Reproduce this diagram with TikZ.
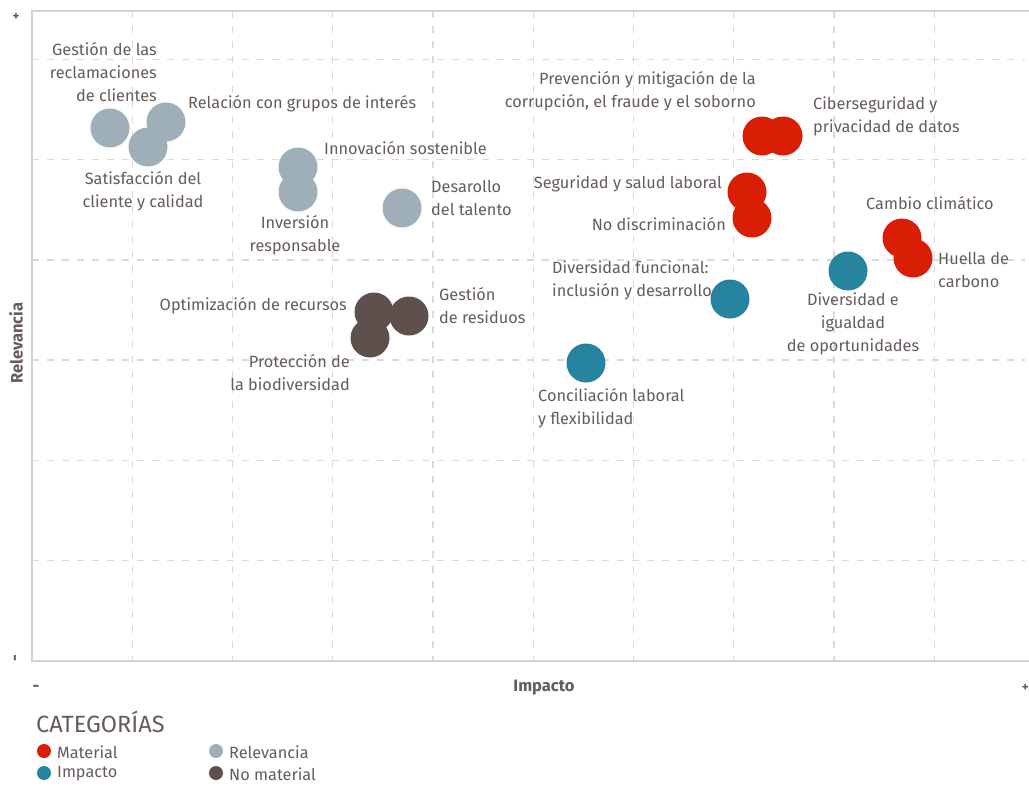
\documentclass[tikz,border=0pt]{standalone}
\usepackage{fontspec}
\setmainfont{Fira Sans}
\definecolor{txt}{HTML}{665C58}
\definecolor{frame}{HTML}{D4D0CD}
\definecolor{gridc}{HTML}{DADADA}
\definecolor{cmat}{HTML}{D81E05}
\definecolor{cimp}{HTML}{27849E}
\definecolor{crel}{HTML}{9EAFB9}
\definecolor{cnom}{HTML}{5E514D}
\tikzset{
  lbl/.style={inner sep=0pt, text=txt, font=\fontsize{16.3}{23}\selectfont},
  axl/.style={inner sep=0pt, text=txt, font=\fontsize{16.5}{18}\selectfont\bfseries},
  dot/.style={circle, inner sep=0pt, minimum size=39pt},
  ldot/.style={circle, inner sep=0pt, minimum size=14pt},
  gridl/.style={gridc, line width=1.4pt, dash pattern=on 7pt off 8pt},
  framel/.style={frame, line width=2.5pt}
}
\begin{document}
\begin{tikzpicture}[x=1pt,y=-1pt]
\useasboundingbox (0,0) rectangle (1029,787);
\fill[white] (0,0) rectangle (1029,787);
% grid
\foreach \k in {1,...,9} {
  \draw[gridl] ({32+100.25*\k},11) -- ({32+100.25*\k},661);
}
\foreach \k in {1,...,6} {
  \draw[gridl] (32,{661-100.3*\k}) -- (1025,{661-100.3*\k});
}
% frame
\draw[framel] (1029,11) -- (32,11) -- (32,661) -- (1029,661);
% axis marks
\node[axl, font=\fontsize{13}{15}\selectfont\bfseries] (plus) at (16,17) {+};
\node[axl, rotate=90] (minus) at (17,658) {-};
\node[axl] (xminus) at (36,688) {-};
\node[axl, font=\fontsize{13}{15}\selectfont\bfseries, anchor=east] (xplus) at (1029,688) {+};
\node[axl] (ximp) at (544,688) {Impacto};
\node[axl, rotate=90] (yrel) at (16,343) {Relevancia};
% circles
\node[dot, fill=crel] (c1) at (110,128) {};
\node[dot, fill=crel] (c2) at (166,122) {};
\node[dot, fill=crel] (c3) at (148,147) {};
\node[dot, fill=crel] (c4) at (298,167) {};
\node[dot, fill=crel] (c5) at (298,192) {};
\node[dot, fill=crel] (c6) at (402,208) {};
\node[dot, fill=cnom] (c7) at (374,312) {};
\node[dot, fill=cnom] (c8) at (409,316) {};
\node[dot, fill=cnom] (c9) at (370,338) {};
\node[dot, fill=cimp] (c10) at (586,363) {};
\node[dot, fill=cimp] (c11) at (730,299) {};
\node[dot, fill=cimp] (c12) at (848,271) {};
\node[dot, fill=cmat] (c13) at (762,136) {};
\node[dot, fill=cmat] (c14) at (783,136) {};
\node[dot, fill=cmat] (c15) at (747,192) {};
\node[dot, fill=cmat] (c16) at (752,218) {};
\node[dot, fill=cmat] (c17) at (902,238) {};
\node[dot, fill=cmat] (c18) at (913,258) {};
% labels
\node[lbl, align=right, anchor=east] (l1) at (157,72) {Gestión de las\\reclamaciones\\de clientes};
\node[lbl, anchor=west] (l2) at (188,104) {Relación con grupos de interés};
\node[lbl, align=center] (l3) at (143,191) {Satisfacción del\\cliente y calidad};
\node[lbl, anchor=west] (l4) at (324,148) {Innovación sostenible};
\node[lbl, align=center] (l5) at (295,235) {Inversión\\responsable};
\node[lbl, align=left, anchor=west] (l6) at (431,198) {Desarollo\\del talento};
\node[lbl, anchor=east] (l7) at (347,306) {Optimización de recursos};
\node[lbl, align=left, anchor=west] (l8) at (439,306) {Gestión\\de residuos};
\node[lbl, align=right, anchor=east] (l9) at (350,373) {Protección de\\la biodiversidad};
\node[lbl, align=left, anchor=west] (l10) at (538,408) {Conciliación laboral\\y flexibilidad};
\node[lbl, align=right, anchor=east] (l11) at (756,91) {Prevención y mitigación de la\\corrupción, el fraude y el soborno};
\node[lbl, align=left, anchor=west] (l12) at (813,116) {Ciberseguridad y\\privacidad de datos};
\node[lbl, anchor=east] (l13) at (722,184) {Seguridad y salud laboral};
\node[lbl, anchor=east] (l14) at (726,224) {No discriminación};
\node[lbl, anchor=west] (l15) at (866,203) {Cambio climático};
\node[lbl, align=left, anchor=west] (l16) at (938,270) {Huella de\\carbono};
\node[lbl, align=left, anchor=west] (l17) at (552,280) {Diversidad funcional:\\inclusión y desarrollo};
\node[lbl, align=center] (l18) at (853,324) {Diversidad e\\igualdad\\de oportunidades};
% legend
\node[inner sep=0pt, text=txt, font=\fontsize{23.5}{27}\selectfont, anchor=west] (cat) at (36,722) {CATEGORÍAS};
\node[ldot, fill=cmat] (d1) at (44,751) {};
\node[ldot, fill=cimp] (d2) at (44,773) {};
\node[ldot, fill=crel] (d3) at (216,751) {};
\node[ldot, fill=cnom] (d4) at (216,773) {};
\node[lbl, anchor=west] (t1) at (57,752) {Material};
\node[lbl, anchor=west] (t2) at (57,774) {Impacto};
\node[lbl, anchor=west] (t3) at (229,752) {Relevancia};
\node[lbl, anchor=west] (t4) at (229,774) {No material};
\end{tikzpicture}
\end{document}
